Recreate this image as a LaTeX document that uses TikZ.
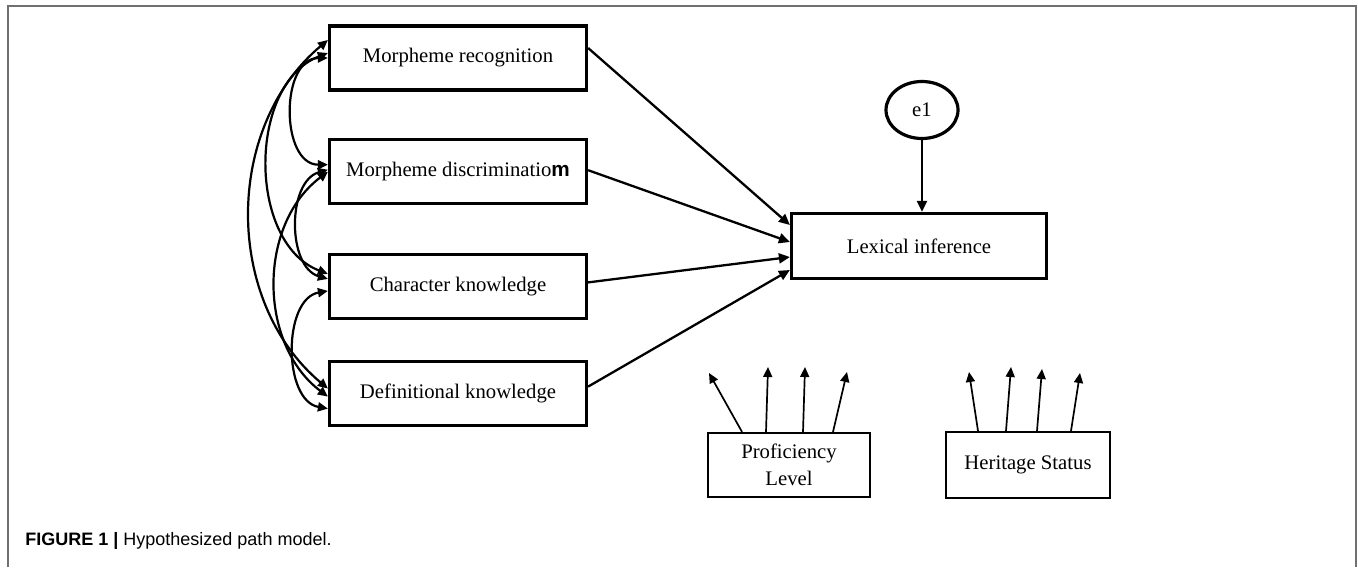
\documentclass[tikz,border=0pt]{standalone}
\usepackage{fontspec}
\setmainfont{Liberation Serif}
\newfontfamily\capfont{Liberation Sans}
\usetikzlibrary{positioning,shapes.geometric,arrows.meta}
\definecolor{rule}{HTML}{707070}
\tikzset{
  var/.style={rectangle,draw,line width=1.6pt,minimum width=128.5pt,
    minimum height=32pt,inner sep=2pt,align=center,
    font=\fontsize{10.35}{13.5}\selectfont},
  ctrl/.style={rectangle,draw,line width=1.1pt,inner sep=2pt,align=center,
    font=\fontsize{10.35}{13.5}\selectfont},
  err/.style={ellipse,draw,line width=1.6pt,minimum width=36pt,
    minimum height=28.5pt,inner sep=0pt,font=\fontsize{10.35}{12}\selectfont},
  eff/.style={-{Triangle[length=5.5pt,width=5pt]},line width=1.15pt},
  cov/.style={{Triangle[length=5pt,width=4.5pt]}-{Triangle[length=5pt,width=4.5pt]},
    line width=1.1pt},
  link/.style={-{Triangle[length=5pt,width=4.5pt]},line width=0.85pt},
}

\begin{document}
\begin{tikzpicture}[x=0.5pt,y=-0.5pt]
  \useasboundingbox (0,0) rectangle (1358,567);
  \draw[rule,line width=0.8pt] (8,567) -- (8,6) -- (1356,6) -- (1356,567);

  % predictors
  \node[var] (mr) at (458,58) {Morpheme recognition};
  \node[var,below=23pt of mr] (md) {Morpheme discriminatio{\capfont\bfseries m}};
  \node[var,below=24pt of md] (ck) {Character knowledge};
  \node[var,below=20pt of ck] (dk) {Definitional knowledge};

  % outcome and error
  \node[var,minimum width=127.5pt,minimum height=32.5pt] (lex) at (919,246) {Lexical inference};
  \node[err] (e1) at (922,110) {e1};

  % controls
  \node[ctrl,minimum width=81pt,minimum height=32pt] (pl) at (789,465) {Proficiency\\Level};
  \node[ctrl,minimum width=82pt,minimum height=33pt] (hs) at (1028,465) {Heritage Status};

  \draw[eff] ([yshift=5pt]mr.east) -- ([yshift=10.5pt]lex.west);
  \draw[eff] ([yshift=0.5pt]md.east) -- ([yshift=2pt]lex.west);
  \draw[eff] ([yshift=2pt]ck.east) -- ([yshift=-5.5pt]lex.west);
  \draw[eff] ([yshift=3.5pt]dk.east) -- ([yshift=-12pt]lex.west);
  \draw[eff] (e1.south) -- (e1.south |- lex.north);

  % covariances
  \draw[cov] ([yshift=9pt]mr.west) to[bend right=50] ([yshift=2.5pt]dk.west);
  \draw[cov] ([yshift=2.5pt]mr.west) to[bend right=69] ([yshift=6.25pt]ck.west);
  \draw[cov] (mr.west) to[bend right=90,looseness=1.15] ([yshift=3.25pt]md.west);
  \draw[cov] ([yshift=0.75pt]md.west) to[bend right=74] ([yshift=3.75pt]ck.west);
  \draw[cov] ([yshift=-0.25pt]md.west) to[bend right=53] ([yshift=-1.5pt]dk.west);
  \draw[cov] ([yshift=-2.25pt]ck.west) to[bend right=80] ([yshift=-7.5pt]dk.west);

  % control links
  \foreach \i/\s/\ex/\ey in {1/-23.5/709/373,2/-11.5/768/367,3/7/805/367,4/22/847/372} {
    \coordinate (pl\i) at (\ex,\ey);
    \draw[link] ([xshift=\s pt]pl.north) -- (pl\i);
  }
  \foreach \i/\s/\ex/\ey in {1/-25/969/372,2/-11/1011/367,3/4.5/1042/369,4/21.5/1080/373} {
    \coordinate (hs\i) at (\ex,\ey);
    \draw[link] ([xshift=\s pt]hs.north) -- (hs\i);
  }

  \node[anchor=base west,inner sep=0pt,font=\capfont\fontsize{9}{11}\selectfont]
    (cap) at (25,545) {\textbf{FIGURE 1 |} Hypothesized path model.};
\end{tikzpicture}
\end{document}
